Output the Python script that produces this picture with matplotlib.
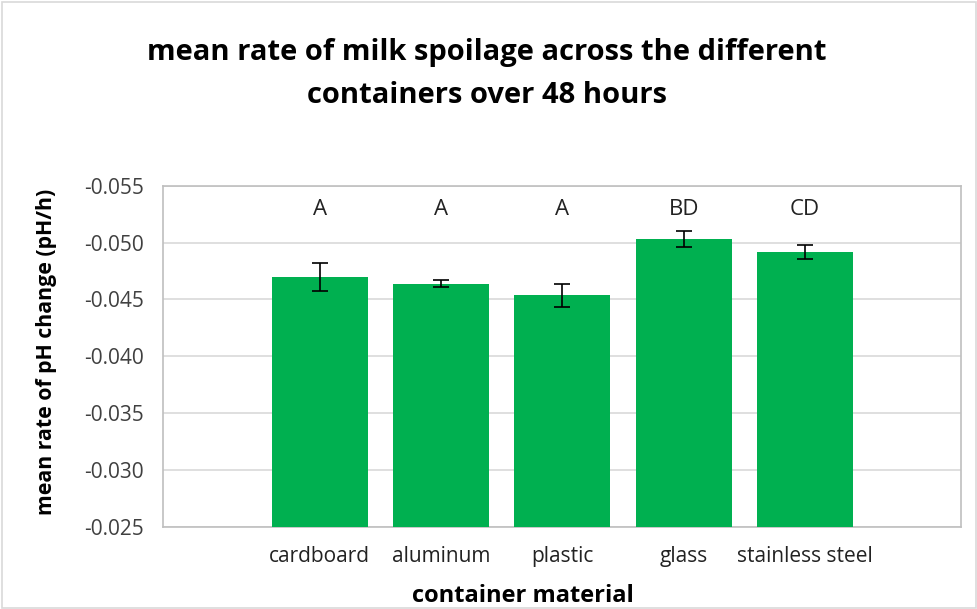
import matplotlib
matplotlib.use("Agg")
import matplotlib.pyplot as plt
import numpy as np

plt.rcParams['font.family'] = ['Open Sans', 'DejaVu Sans']

materials = ["cardboard", "aluminum", "plastic", "glass", "stainless steel"]
mean_rate = [-0.04695, -0.0464, -0.04535, -0.05035, -0.04915]
err = [0.00125, 0.0003, 0.00105, 0.0007, 0.0006]
groups = ["A", "A", "A", "BD", "CD"]
yticks = [-0.055, -0.050, -0.045, -0.040, -0.035, -0.030, -0.025]

fig = plt.figure(figsize=(9.78, 6.09), dpi=100)
ax = fig.add_axes([0.167, 0.135, 0.816, 0.56])

x = np.arange(len(materials))
base = -0.025
ax.bar(x, np.array(mean_rate) - base, bottom=base, width=0.79, color="#00B050", zorder=3)
ax.errorbar(x, mean_rate, yerr=err, fmt="none", ecolor="black", elinewidth=1.2,
            capsize=6, capthick=1.2, zorder=4)

# significance letters above the bars
for xi, g in zip(x, groups):
    ax.text(xi, -0.0529, g, ha="center", va="center", fontsize=16, color="#222222")

ax.set_ylim(-0.025, -0.055)
ax.set_xlim(-1.29, 5.29)
ax.set_yticks(yticks)
ax.set_yticklabels(["%.3f" % v for v in yticks], fontsize=15, color="#404040")
ax.set_xticks(x)
ax.set_xticklabels(materials, fontsize=15, color="#222222")
ax.tick_params(axis="y", length=0, pad=14)
ax.tick_params(axis="x", length=0, pad=14)
ax.yaxis.grid(True, color="#d9d9d9", linewidth=1.2, zorder=0)
for s in ax.spines.values():
    s.set_color("#bfbfbf")
    s.set_linewidth(1.2)

ax.set_xlabel("container material", fontsize=17, fontweight="bold")
ax.xaxis.set_label_coords(0.451, -0.202)
ax.xaxis.label.set_va("center")
ax.set_ylabel("mean rate of pH change (pH/h)", fontsize=15.3, fontweight="bold")
ax.yaxis.set_label_coords(-0.147, 0.512)
ax.yaxis.label.set_va("center")

fig.text(0.498, 0.9146, "mean rate of milk spoilage across the different",
         ha="center", va="center", fontsize=21, fontweight="bold")
fig.text(0.498, 0.844, "containers over 48 hours",
         ha="center", va="center", fontsize=21, fontweight="bold")

# light frame around the chart area
fig.patches.append(plt.Rectangle((0.002, 0.002), 0.996, 0.995, transform=fig.transFigure,
                                 fill=False, edgecolor="#d9d9d9", linewidth=1.2))

fig.savefig("out.png", dpi=100)
